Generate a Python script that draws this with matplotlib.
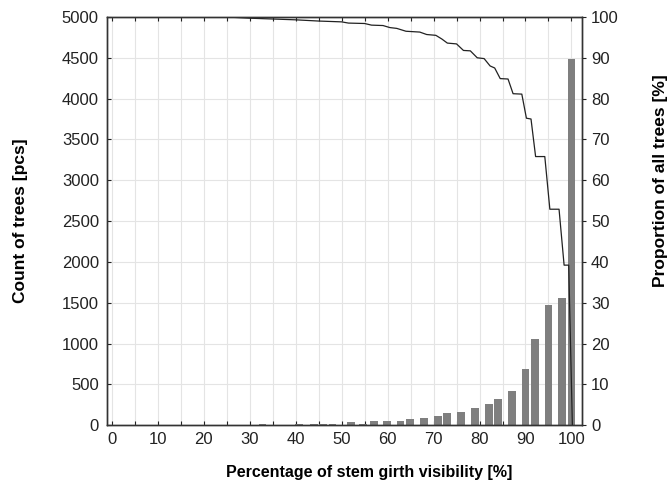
import matplotlib
matplotlib.use('Agg')
import numpy as np
from matplotlib import pyplot as plt
from matplotlib.ticker import MultipleLocator

# bars: count of trees per visibility value
bar_x = [32.8, 40.8, 44.0, 46.0, 48.0, 52.0, 54.7, 57.0, 59.8, 62.8, 64.8, 67.9,
         71.0, 73.0, 76.0, 79.0, 82.0, 84.0, 87.0, 90.0, 92.0, 95.0, 98.0, 100.0]
bar_count = [10, 10, 8, 20, 10, 35, 12, 45, 55, 53, 70, 86,
             106, 147, 167, 216, 261, 318, 420, 682, 1060, 1466, 1555, 4480]

# line: proportion of all trees [%]
line_x = [0, 25, 30, 35, 40, 45, 50, 51.5, 55, 56.5, 59, 60.5, 62, 64, 67, 68.5,
          70.5, 71.8, 73, 75, 76.5, 78, 79.5, 81, 82.3, 83.3, 84.5, 86.2, 87.3,
          89.2, 90.2, 91.2, 92.2, 94.2, 95.3, 97.3, 98.4, 99.4, 100.2]
line_share = [100, 100, 99.7, 99.5, 99.3, 99.0, 98.8, 98.5, 98.4, 98.0, 97.9, 97.4,
              97.2, 96.5, 96.3, 95.7, 95.5, 94.6, 93.6, 93.4, 91.8, 91.7, 90.0, 89.8,
              88.0, 87.5, 84.9, 84.8, 81.2, 81.1, 75.2, 75.0, 65.8, 65.8, 52.9, 52.9,
              39.2, 39.2, 0]

plt.rcParams['font.family'] = ['Liberation Sans', 'DejaVu Sans']

fig = plt.figure(figsize=(6.7, 4.99), dpi=100)
ax = fig.add_axes([0.16, 0.148, 0.7087, 0.818])
ax2 = ax.twinx()

ax.bar(bar_x, bar_count, width=1.7, color='#7f7f7f', zorder=2)
ax.set_xlim(-1, 102.3)
ax.set_ylim(0, 5000)
ax.xaxis.set_major_locator(MultipleLocator(10))
ax.xaxis.set_minor_locator(MultipleLocator(5))
ax.yaxis.set_major_locator(MultipleLocator(500))
ax.grid(True, which='both', axis='x', color='#e4e4e4', lw=0.8)
ax.grid(True, which='major', axis='y', color='#e4e4e4', lw=0.8)
ax.set_axisbelow(True)
ax.tick_params(axis='both', which='both', direction='in', labelsize=12,
               colors='#222222', top=True, length=3, width=0.8)
ax.tick_params(axis='x', pad=5)
ax.tick_params(axis='y', pad=6)

ax2.plot(line_x, line_share, color='#222222', lw=0.9)
ax2.set_ylim(0, 100)
ax2.yaxis.set_major_locator(MultipleLocator(10))
ax2.tick_params(axis='y', direction='out', labelsize=12, colors='#222222', length=3, width=0.8)

for a in (ax, ax2):
    for s in a.spines.values():
        s.set_color('#333333')
        s.set_linewidth(1.0)

ax.set_xlabel('Percentage of stem girth visibility [%]', fontsize=11.5, fontweight='bold')
ax.xaxis.set_label_coords(0.552, -0.097)
ax.set_ylabel('Count of trees [pcs]', fontsize=12.5, fontweight='bold')
ax.yaxis.set_label_coords(-0.167, 0.5)
ax2.set_ylabel('Proportion of all trees [%]', fontsize=12.5, fontweight='bold')
ax2.yaxis.set_label_coords(1.149, 0.6)

fig.savefig('out.png', dpi=100)
